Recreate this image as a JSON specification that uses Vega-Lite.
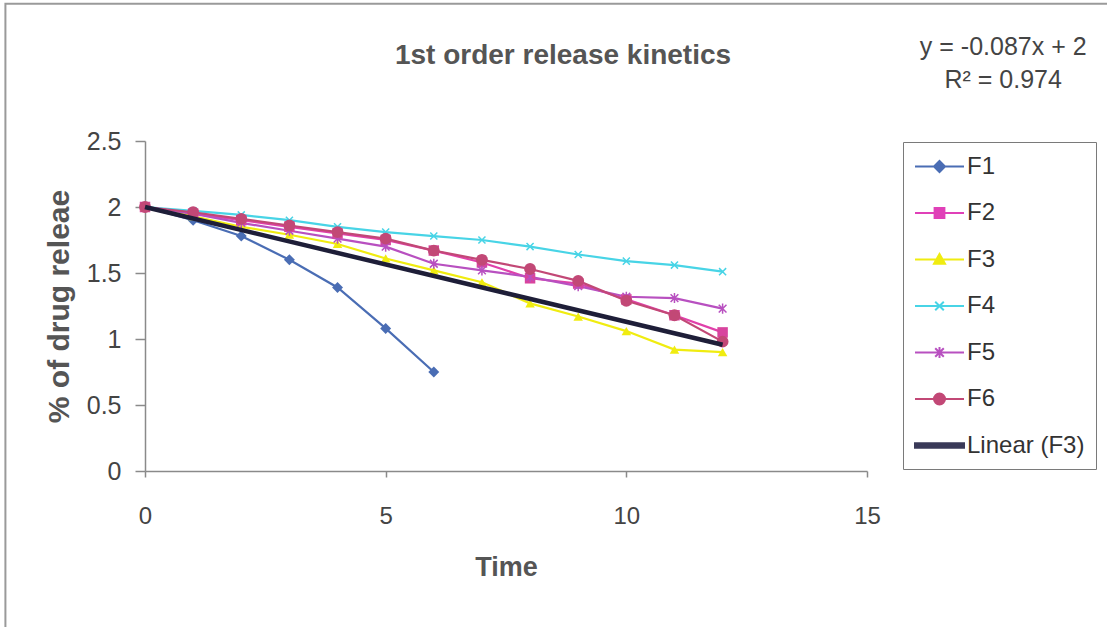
{
  "$schema": "https://vega.github.io/schema/vega-lite/v6.json",
  "width": 722,
  "height": 330,
  "autosize": {"type": "none"},
  "padding": {"left": 145, "top": 141, "right": 240, "bottom": 156},
  "background": "white",
  "config": {
    "font": "Liberation Sans",
    "view": {"stroke": null},
    "axis": {
      "grid": false,
      "domainColor": "#8a8a8a",
      "domainWidth": 1.5,
      "tickColor": "#8a8a8a",
      "tickWidth": 1.5,
      "labelColor": "#444444",
      "labelFont": "Liberation Sans",
      "labelFontSize": 25,
      "titleColor": "#555555",
      "titleFont": "Liberation Sans",
      "titleFontWeight": "bold",
      "titleFontSize": 27
    }
  },
  "title": {
    "text": "1st order release kinetics",
    "font": "Liberation Sans",
    "fontSize": 28,
    "fontWeight": "bold",
    "color": "#555555",
    "anchor": "middle",
    "frame": "group",
    "baseline": "alphabetic",
    "dx": 57,
    "offset": -89
  },
  "data": {
    "values": [
      {"t": 0, "series": "F1", "v": 2.0},
      {"t": 1, "series": "F1", "v": 1.9},
      {"t": 2, "series": "F1", "v": 1.78},
      {"t": 3, "series": "F1", "v": 1.6},
      {"t": 4, "series": "F1", "v": 1.39},
      {"t": 5, "series": "F1", "v": 1.08},
      {"t": 6, "series": "F1", "v": 0.75},
      {"t": 0, "series": "F2", "v": 2.0},
      {"t": 1, "series": "F2", "v": 1.95},
      {"t": 2, "series": "F2", "v": 1.9},
      {"t": 3, "series": "F2", "v": 1.85},
      {"t": 4, "series": "F2", "v": 1.8},
      {"t": 5, "series": "F2", "v": 1.75},
      {"t": 6, "series": "F2", "v": 1.67},
      {"t": 7, "series": "F2", "v": 1.58},
      {"t": 8, "series": "F2", "v": 1.46},
      {"t": 9, "series": "F2", "v": 1.42},
      {"t": 10, "series": "F2", "v": 1.3},
      {"t": 11, "series": "F2", "v": 1.18},
      {"t": 12, "series": "F2", "v": 1.05},
      {"t": 0, "series": "F3", "v": 2.0},
      {"t": 1, "series": "F3", "v": 1.93},
      {"t": 2, "series": "F3", "v": 1.85},
      {"t": 3, "series": "F3", "v": 1.79},
      {"t": 4, "series": "F3", "v": 1.72},
      {"t": 5, "series": "F3", "v": 1.61},
      {"t": 6, "series": "F3", "v": 1.52},
      {"t": 7, "series": "F3", "v": 1.43},
      {"t": 8, "series": "F3", "v": 1.27},
      {"t": 9, "series": "F3", "v": 1.17},
      {"t": 10, "series": "F3", "v": 1.06},
      {"t": 11, "series": "F3", "v": 0.92},
      {"t": 12, "series": "F3", "v": 0.9},
      {"t": 0, "series": "F4", "v": 2.0},
      {"t": 1, "series": "F4", "v": 1.97},
      {"t": 2, "series": "F4", "v": 1.94},
      {"t": 3, "series": "F4", "v": 1.9},
      {"t": 4, "series": "F4", "v": 1.85},
      {"t": 5, "series": "F4", "v": 1.81},
      {"t": 6, "series": "F4", "v": 1.78},
      {"t": 7, "series": "F4", "v": 1.75},
      {"t": 8, "series": "F4", "v": 1.7},
      {"t": 9, "series": "F4", "v": 1.64},
      {"t": 10, "series": "F4", "v": 1.59},
      {"t": 11, "series": "F4", "v": 1.56},
      {"t": 12, "series": "F4", "v": 1.51},
      {"t": 0, "series": "F5", "v": 2.0},
      {"t": 1, "series": "F5", "v": 1.95},
      {"t": 2, "series": "F5", "v": 1.88},
      {"t": 3, "series": "F5", "v": 1.82},
      {"t": 4, "series": "F5", "v": 1.76},
      {"t": 5, "series": "F5", "v": 1.7},
      {"t": 6, "series": "F5", "v": 1.57},
      {"t": 7, "series": "F5", "v": 1.52},
      {"t": 8, "series": "F5", "v": 1.47},
      {"t": 9, "series": "F5", "v": 1.4},
      {"t": 10, "series": "F5", "v": 1.32},
      {"t": 11, "series": "F5", "v": 1.31},
      {"t": 12, "series": "F5", "v": 1.23},
      {"t": 0, "series": "F6", "v": 2.0},
      {"t": 1, "series": "F6", "v": 1.96},
      {"t": 2, "series": "F6", "v": 1.91},
      {"t": 3, "series": "F6", "v": 1.86},
      {"t": 4, "series": "F6", "v": 1.81},
      {"t": 5, "series": "F6", "v": 1.76},
      {"t": 6, "series": "F6", "v": 1.67},
      {"t": 7, "series": "F6", "v": 1.6},
      {"t": 8, "series": "F6", "v": 1.53},
      {"t": 9, "series": "F6", "v": 1.44},
      {"t": 10, "series": "F6", "v": 1.29},
      {"t": 11, "series": "F6", "v": 1.18},
      {"t": 12, "series": "F6", "v": 0.98},
      {"t": 0, "series": "Linear (F3)", "v": 2.0},
      {"t": 12, "series": "Linear (F3)", "v": 0.956}
    ]
  },
  "encoding": {
    "x": {
      "field": "t",
      "type": "quantitative",
      "scale": {"domain": [0, 15], "nice": false, "zero": false},
      "axis": {"values": [0, 5, 10, 15], "format": "d", "tickSize": 6, "labelPadding": 27, "labelFlush": false, "title": "Time", "titlePadding": 26, "labelFontSize": 24}
    },
    "y": {
      "field": "v",
      "type": "quantitative",
      "scale": {"domain": [0, 2.5], "nice": false},
      "axis": {"values": [0, 0.5, 1, 1.5, 2, 2.5], "format": "~g", "tickSize": 10, "labelPadding": 14, "title": "% of drug releae", "titlePadding": 12, "titleFontSize": 30}
    }
  },
  "layer": [
    {
      "transform": [{"filter": "datum.series == 'Linear (F3)' && datum.t == 0"}],
      "mark": {"type": "rect", "fill": null, "stroke": "#9a9a9a", "strokeWidth": 2, "clip": false},
      "encoding": {
        "x": {"datum": -2.9},
        "x2": {"datum": 21},
        "y": {"datum": 3.54},
        "y2": {"datum": -1.4}
      }
    },
    {
      "transform": [{"filter": "datum.series != 'Linear (F3)'"}],
      "mark": {"type": "line", "strokeWidth": 2.2},
      "encoding": {
        "color": {
          "field": "series",
          "type": "nominal",
          "scale": {"domain": ["F1", "F2", "F3", "F4", "F5", "F6"], "range": ["#4a6db4", "#e040aa", "#f0ec10", "#48d4e6", "#b850c0", "#c24876"]},
          "legend": null
        }
      }
    },
    {
      "transform": [{"filter": "datum.series == 'F1'"}],
      "mark": {"type": "point", "shape": "diamond", "filled": true, "size": 120, "color": "#4a6db4", "opacity": 1}
    },
    {
      "transform": [{"filter": "datum.series == 'F2'"}],
      "mark": {"type": "point", "shape": "square", "filled": true, "size": 110, "color": "#d8449e", "opacity": 1}
    },
    {
      "transform": [{"filter": "datum.series == 'F3'"}],
      "mark": {"type": "point", "shape": "triangle-up", "filled": true, "size": 90, "color": "#f0ec10", "opacity": 1}
    },
    {
      "transform": [{"filter": "datum.series == 'F4'"}],
      "mark": {"type": "point", "shape": "M-1,-1L1,1M-1,1L1,-1", "filled": false, "size": 50, "strokeWidth": 1.5, "color": "#48d4e6", "opacity": 1}
    },
    {
      "transform": [{"filter": "datum.series == 'F5'"}],
      "mark": {"type": "point", "shape": "M-1,-1L1,1M-1,1L1,-1M0,-1.3V1.3", "filled": false, "size": 60, "strokeWidth": 1.5, "color": "#b850c0", "opacity": 1}
    },
    {
      "transform": [{"filter": "datum.series == 'F6'"}],
      "mark": {"type": "point", "shape": "circle", "filled": true, "size": 140, "color": "#c24876", "opacity": 1}
    },
    {
      "transform": [{"filter": "datum.series == 'Linear (F3)'"}],
      "mark": {"type": "line", "strokeWidth": 4.5, "color": "#1e1e38"}
    },
    {
      "transform": [{"filter": "datum.series == 'Linear (F3)' && datum.t == 0"}],
      "mark": {"type": "text", "text": ["y = -0.087x + 2", "R² = 0.974"], "font": "Liberation Sans", "fontSize": 25, "color": "#444444", "align": "center", "baseline": "middle", "lineHeight": 33},
      "encoding": {
        "x": {"datum": 17.83},
        "y": {"datum": 3.212}
      }
    },
    {
      "transform": [{"filter": "datum.t < 0"}],
      "mark": {"type": "point", "filled": true, "opacity": 1},
      "encoding": {
        "shape": {
          "field": "series",
          "type": "nominal",
          "scale": {
            "domain": ["F1", "F2", "F3", "F4", "F5", "F6", "Linear (F3)"],
            "range": [
              "M-2,0H2M0,-0.45L0.45,0L0,0.45L-0.45,0Z",
              "M-2,0H2M-0.4,-0.4H0.4V0.4H-0.4Z",
              "M-2,0H2M0,-0.45L0.45,0.35H-0.45Z",
              "M-2,0H2M-0.35,-0.35L0.35,0.35M-0.35,0.35L0.35,-0.35",
              "M-2,0H2M-0.35,-0.35L0.35,0.35M-0.35,0.35L0.35,-0.35M0,-0.45V0.45",
              "M-2,0H2M-0.45,0A0.45,0.45 0 1,0 0.45,0A0.45,0.45 0 1,0 -0.45,0Z",
              "M-2,-0.18H2V0.18H-2Z"
            ]
          },
          "legend": {
            "title": null,
            "orient": "none",
            "legendX": 758,
            "legendY": 1,
            "padding": 11,
            "strokeColor": "#7a7a7a",
            "fillColor": "white",
            "symbolSize": 600,
            "symbolStrokeWidth": 2,
            "symbolOffset": 12,
            "labelOffset": 14,
            "labelFont": "Liberation Sans",
            "labelFontSize": 24,
            "labelColor": "#333333",
            "rowPadding": 20.5,
            "labelLimit": 300
          }
        },
        "fill": {
          "field": "series",
          "type": "nominal",
          "scale": {"domain": ["F1", "F2", "F3", "F4", "F5", "F6", "Linear (F3)"], "range": ["#4a6db4", "#e040b8", "#f0ec10", "#48d4e6", "#b850c0", "#c24876", "#3a3a58"]},
          "legend": {
            "title": null,
            "orient": "none",
            "legendX": 758,
            "legendY": 1,
            "padding": 11,
            "strokeColor": "#7a7a7a",
            "fillColor": "white",
            "symbolSize": 600,
            "symbolStrokeWidth": 2,
            "symbolOffset": 12,
            "labelOffset": 14,
            "labelFont": "Liberation Sans",
            "labelFontSize": 24,
            "labelColor": "#333333",
            "rowPadding": 20.5,
            "labelLimit": 300
          }
        },
        "stroke": {
          "field": "series",
          "type": "nominal",
          "scale": {"domain": ["F1", "F2", "F3", "F4", "F5", "F6", "Linear (F3)"], "range": ["#4a6db4", "#e040b8", "#f0ec10", "#48d4e6", "#b850c0", "#c24876", "#3a3a58"]},
          "legend": {
            "title": null,
            "orient": "none",
            "legendX": 758,
            "legendY": 1,
            "padding": 11,
            "strokeColor": "#7a7a7a",
            "fillColor": "white",
            "symbolSize": 600,
            "symbolStrokeWidth": 2,
            "symbolOffset": 12,
            "labelOffset": 14,
            "labelFont": "Liberation Sans",
            "labelFontSize": 24,
            "labelColor": "#333333",
            "rowPadding": 20.5,
            "labelLimit": 300
          }
        }
      }
    }
  ]
}
